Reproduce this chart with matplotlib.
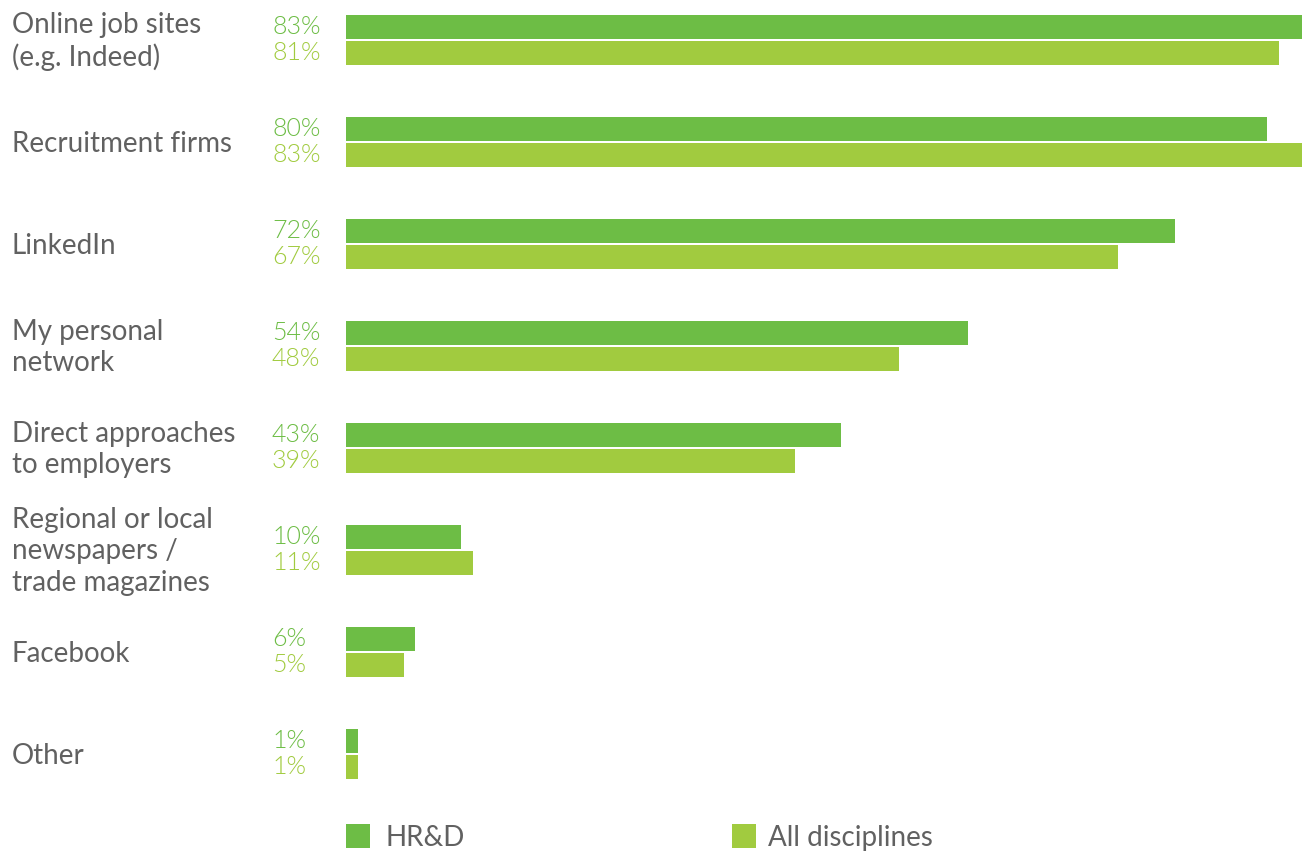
import matplotlib
matplotlib.use("Agg")
import matplotlib.pyplot as plt
from matplotlib.patches import Rectangle
import numpy as np

categories = [
    "Online job sites\n(e.g. Indeed)",
    "Recruitment firms",
    "LinkedIn",
    "My personal\nnetwork",
    "Direct approaches\nto employers",
    "Regional or local\nnewspapers /\ntrade magazines",
    "Facebook",
    "Other",
]
hrd = [83, 80, 72, 54, 43, 10, 6, 1]
all_disc = [81, 83, 67, 48, 39, 11, 5, 1]
series_names = ["HR&D", "All disciplines"]

DARK = "#6dbd45"
LIGHT = "#a1cb3f"
GREY = "#616161"
FONT = ["Lato", "DejaVu Sans"]

W, H = 1305, 852
fig = plt.figure(figsize=(W / 100, H / 100), dpi=100)

# axes: x=0 at 346 px, x=83 at 1302 px; one group per 102 px vertically
x0_px, x1_px = 346, 1302
ax = fig.add_axes([x0_px / W, 0, (x1_px - x0_px) / W, 1])
ax.set_xlim(0, 83)
step = 102.0
c0 = 39.5
ax.set_ylim((H - c0) / step, -c0 / step)
ax.axis("off")

y = np.arange(len(categories))
bh = 24 / step
off = 13 / step
ax.barh(y - off, hrd, height=bh, color=DARK, linewidth=0)
ax.barh(y + off, all_disc, height=bh, color=LIGHT, linewidth=0)

lab_tr = matplotlib.transforms.blended_transform_factory(fig.transFigure, ax.transData)
nudge = 2 / step
for i, cat in enumerate(categories):
    ax.text(12 / W, i + nudge, cat, transform=lab_tr, ha="left", va="center",
            fontsize=20, color=GREY, family=FONT, linespacing=1.24)
    ax.text(272 / W, i - off + 1 / step, f"{hrd[i]}%", transform=lab_tr, ha="left", va="center",
            fontsize=18, color=DARK, family=FONT, fontweight=300)
    ax.text(272 / W, i + off + 1 / step, f"{all_disc[i]}%", transform=lab_tr, ha="left", va="center",
            fontsize=18, color=LIGHT, family=FONT, fontweight=300)

# legend
leg_y = 836
for (sx, tx), name, col in zip([(346, 385), (732, 768)], series_names, [DARK, LIGHT]):
    fig.patches.append(Rectangle((sx / W, 1 - (leg_y + 12) / H), 24 / W, 24 / H,
                                 transform=fig.transFigure, color=col, linewidth=0))
    fig.text(tx / W, 1 - (leg_y + 2) / H, name, ha="left", va="center",
             fontsize=20, color=GREY, family=FONT)

fig.savefig("out.png", dpi=100)
